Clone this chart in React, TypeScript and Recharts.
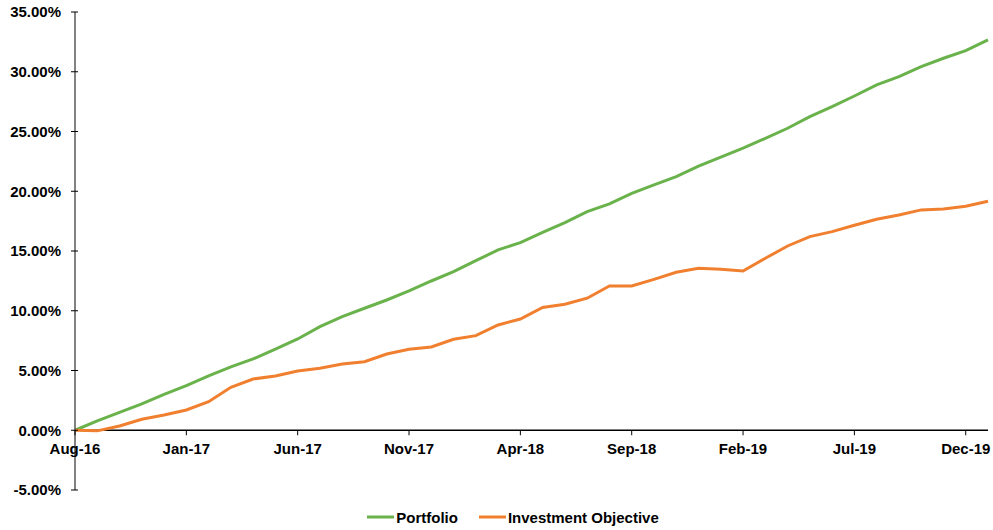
import React from 'react';
import { LineChart, Line, XAxis, YAxis, ReferenceLine, Legend } from 'recharts';

const months = ['Aug-16','Sep-16','Oct-16','Nov-16','Dec-16','Jan-17','Feb-17','Mar-17','Apr-17','May-17','Jun-17','Jul-17','Aug-17','Sep-17','Oct-17','Nov-17','Dec-17','Jan-18','Feb-18','Mar-18','Apr-18','May-18','Jun-18','Jul-18','Aug-18','Sep-18','Oct-18','Nov-18','Dec-18','Jan-19','Feb-19','Mar-19','Apr-19','May-19','Jun-19','Jul-19','Aug-19','Sep-19','Oct-19','Nov-19','Dec-19','Jan-20'];

const portfolio = [0, 0.78, 1.5, 2.2, 3.0, 3.73, 4.55, 5.3, 5.97, 6.78, 7.64, 8.67, 9.51, 10.21, 10.9, 11.66, 12.49, 13.27, 14.19, 15.09, 15.7, 16.55, 17.37, 18.29, 18.94, 19.83, 20.53, 21.22, 22.1, 22.85, 23.6, 24.43, 25.27, 26.24, 27.08, 27.97, 28.9, 29.59, 30.43, 31.13, 31.77, 32.66];

const objective = [0, -0.05, 0.36, 0.92, 1.28, 1.7, 2.39, 3.6, 4.29, 4.54, 4.96, 5.19, 5.55, 5.74, 6.38, 6.78, 6.97, 7.61, 7.92, 8.81, 9.31, 10.28, 10.54, 11.05, 12.07, 12.07, 12.63, 13.22, 13.55, 13.47, 13.33, 14.39, 15.42, 16.2, 16.62, 17.16, 17.66, 18.02, 18.44, 18.52, 18.74, 19.16];

const yTicks = [-5, 0, 5, 10, 15, 20, 25, 30, 35];

const seriesNames = ['Portfolio', 'Investment Objective'];

const data = months.map((m, i) => ({ month: m, portfolio: portfolio[i], objective: objective[i] }));

const W = 993;
const H = 530;
const MARGIN = { top: 12, right: 5, left: 0, bottom: 0 };
const XAXIS_H = 10;
const LEGEND_H = 30;
const Y_MIN = -5;
const Y_MAX = 35;
const PLOT_H = H - MARGIN.top - MARGIN.bottom - XAXIS_H - LEGEND_H;
const ZERO_OFFSET = (PLOT_H * (0 - Y_MIN)) / (Y_MAX - Y_MIN);

const GREEN = '#6AB24B';
const ORANGE = '#F0802F';
const FONT = '"Liberation Sans", Arial, sans-serif';

const XTick = (props: any) => {
  const { x, y, payload } = props;
  const lineY = y - ZERO_OFFSET;
  return (
    <g>
      <line x1={x} x2={x} y1={lineY} y2={lineY + 5} stroke="#000" strokeWidth={1} />
      <text x={x} y={lineY + 24} textAnchor="middle" fontFamily={FONT} fontWeight="bold" fontSize={15} fill="#000">
        {payload.value}
      </text>
    </g>
  );
};

const YTick = (props: any) => {
  const { x, y, payload } = props;
  return (
    <g>
      <line x1={x - 4} x2={x + 3} y1={y} y2={y} stroke="#000" strokeWidth={1} />
      <text x={x - 14} y={y} dy="0.36em" textAnchor="end" fontFamily={FONT} fontWeight="bold" fontSize={15} fill="#000">
        {`${Number(payload.value).toFixed(2)}%`}
      </text>
    </g>
  );
};

const LegendContent = () => (
  <div style={{ display: 'flex', justifyContent: 'center', alignItems: 'center', height: LEGEND_H, paddingLeft: 38, paddingTop: 4, boxSizing: 'border-box', fontFamily: FONT, fontWeight: 'bold', fontSize: 15, color: '#000' }}>
    {[GREEN, ORANGE].map((c, i) => (
      <div key={i} style={{ display: 'flex', alignItems: 'center', marginRight: i === 0 ? 21 : 0 }}>
        <svg width={27} height={6} style={{ marginRight: 2 }}>
          <line x1={0} x2={27} y1={3} y2={3} stroke={c} strokeWidth={3} />
        </svg>
        <span>{seriesNames[i]}</span>
      </div>
    ))}
  </div>
);

export default function App() {
  return (
    <div style={{ position: 'absolute', left: 0, top: 0, width: W, height: H, background: '#fff' }}>
      <LineChart width={W} height={H} data={data} margin={MARGIN}>
        <XAxis
          dataKey="month"
          height={XAXIS_H}
          axisLine={false}
          tickLine={false}
          tickSize={0}
          tickMargin={0}
          interval={4}
          tick={<XTick />}
        />
        <YAxis
          width={75}
          domain={[Y_MIN, Y_MAX]}
          ticks={yTicks}
          type="number"
          allowDataOverflow
          axisLine={{ stroke: '#595959', strokeWidth: 1.5 }}
          tickLine={false}
          tickSize={0}
          tickMargin={0}
          tick={<YTick />}
        />
        <ReferenceLine y={0} stroke="#000" strokeWidth={1.5} />
        <Line type="linear" dataKey="portfolio" name={seriesNames[0]} stroke={GREEN} strokeWidth={3} dot={false} isAnimationActive={false} />
        <Line type="linear" dataKey="objective" name={seriesNames[1]} stroke={ORANGE} strokeWidth={3} dot={false} isAnimationActive={false} />
        <Legend verticalAlign="bottom" wrapperStyle={{ height: LEGEND_H }} content={<LegendContent />} />
      </LineChart>
    </div>
  );
}
